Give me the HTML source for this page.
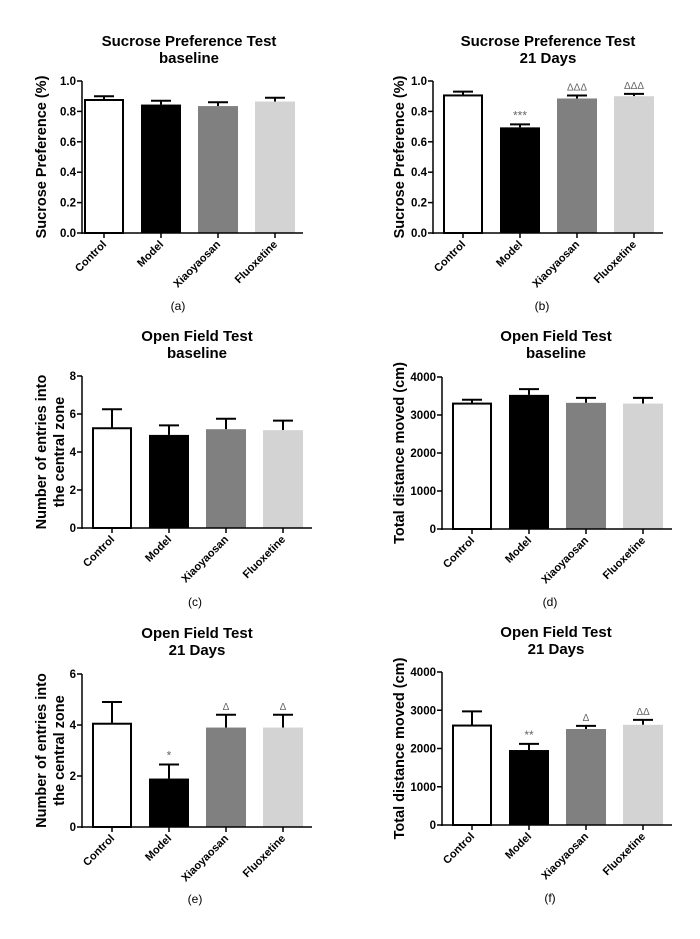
<!DOCTYPE html>
<html><head><meta charset="utf-8"><style>
body{margin:0;background:#fff;}
svg{display:block;font-family:"Liberation Sans",Arial,sans-serif;}
</style></head><body>
<svg id="fig" width="700" height="939" viewBox="0 0 700 939" xmlns="http://www.w3.org/2000/svg"></svg>
<script>
const categories = ["Control","Model","Xiaoyaosan","Fluoxetine"];
const fills = ["#ffffff","#000000","#808080","#d3d3d3"];
const aMeans = [0.875,0.845,0.835,0.865];
const aErrs = [0.025,0.025,0.025,0.025];
const aMarks = ["","","",""];
const bMeans = [0.905,0.695,0.885,0.9];
const bErrs = [0.025,0.02,0.02,0.015];
const bMarks = ["","***","ΔΔΔ","ΔΔΔ"];
const cMeans = [5.25,4.9,5.2,5.15];
const cErrs = [1.0,0.5,0.55,0.5];
const cMarks = ["","","",""];
const dMeans = [3300,3530,3320,3300];
const dErrs = [100,150,130,150];
const dMarks = ["","","",""];
const eMeans = [4.05,1.9,3.9,3.9];
const eErrs = [0.85,0.55,0.5,0.5];
const eMarks = ["","*","Δ","Δ"];
const fMeans = [2600,1960,2510,2620];
const fErrs = [370,160,80,130];
const fMarks = ["","**","Δ","ΔΔ"];
const spTicks = ["0.0","0.2","0.4","0.6","0.8","1.0"];
const c8Ticks = ["0","2","4","6","8"];
const c6Ticks = ["0","2","4","6"];
const d4Ticks = ["0","1000","2000","3000","4000"];

const NS="http://www.w3.org/2000/svg";
const svg=document.getElementById('fig');
function mk(tag,attrs,parent,text){const e=document.createElementNS(NS,tag);for(const k in attrs)e.setAttribute(k,attrs[k]);if(text!==undefined)e.textContent=text;(parent||svg).appendChild(e);return e;}

function panel(p){
  const g=mk('g',{});
  
  
  const ymax=parseFloat(p.ticks[p.ticks.length-1]);
  const ys=v=>p.y0-(v/ymax)*(p.y0-p.y1);
  const t1=mk('text',{x:p.tx,y:p.ty,'text-anchor':'middle','font-size':'15','font-weight':'bold'},g,p.title[0]);
  
  
  const t2=mk('text',{x:p.tx,y:p.ty+17,'text-anchor':'middle','font-size':'15','font-weight':'bold'},g,p.title[1]);
  
  
  // y label
  const cy=(p.y0+p.y1)/2;
  p.ylab.forEach((l,i)=>{
    const x=p.ylx+i*18;
    const t=mk('text',{x:x,y:cy,'text-anchor':'middle','font-size':'14.5','font-weight':'bold',transform:`rotate(-90 ${x} ${cy})`},g,l);
    
    
  });
  // bars
  categories.forEach((c,i)=>{
    const x=p.bx+i*57, w=40, cx=x+w/2;
    const top=ys(p.means[i]), et=ys(p.means[i]+p.errs[i]);
    const ln=mk('line',{x1:cx,y1:top,x2:cx,y2:et,stroke:'#000','stroke-width':2},g);
    
    
    const cap=mk('line',{x1:cx-10,y1:et,x2:cx+10,y2:et,stroke:'#000','stroke-width':2},g);
    
    
    const r=mk('rect',{x:x+(i==0?1:0),y:top,width:w-(i==0?2:0),height:p.y0-top,fill:fills[i],stroke:i==0?'#000':'none','stroke-width':2},g);
    
    
    if(p.marks[i]){
      const m=mk('text',{x:cx,y:et-5,'text-anchor':'middle','font-size':p.marks[i].includes('*')?'12':'10',fill:'#666'},g,p.marks[i]);
      
      
    }
    const tk=mk('line',{x1:cx,y1:p.y0,x2:cx,y2:p.y0+5,stroke:'#000','stroke-width':1.5},g);
    
    
    const lx=cx+3, ly=p.y0+12;
    const lt=mk('text',{x:lx,y:ly,'text-anchor':'end','font-size':'11','font-weight':'bold',transform:`rotate(-45 ${lx} ${ly})`},g,c);
    
    
  });
  // axes
  const ya=mk('line',{x1:p.ax,y1:p.y1,x2:p.ax,y2:p.y0+1,stroke:'#000','stroke-width':1.5},g);
  
  
  const xa=mk('line',{x1:p.ax,y1:p.y0,x2:p.xe,y2:p.y0,stroke:'#000','stroke-width':1.5},g);
  
  
  p.ticks.forEach(t=>{
    const y=ys(parseFloat(t));
    const tl=mk('line',{x1:p.ax-5,y1:y,x2:p.ax,y2:y,stroke:'#000','stroke-width':1.5},g);
    
    
    const tt=mk('text',{x:p.ax-6,y:y+4,'text-anchor':'end','font-size':'11.5','font-weight':'bold'},g,t);
    
    
  });
  const pl=mk('text',{x:p.lx,y:p.ly,'text-anchor':'middle','font-size':'12'},g,'('+p.id+')');
  
  
}
const spLab=["Sucrose Preference (%)"];
const nLab=["Number of entries into","the central zone"];
const dLab=["Total distance moved  (cm)"];
panel({id:'a',title:["Sucrose Preference Test","baseline"],tx:189,ty:46,ax:82,xe:303,y0:233,y1:81,bx:84,ticks:spTicks,means:aMeans,errs:aErrs,marks:aMarks,ylab:spLab,ylx:46,lx:178,ly:310});
panel({id:'b',title:["Sucrose Preference Test","21 Days"],tx:548,ty:46,ax:433,xe:663,y0:233,y1:81,bx:443,ticks:spTicks,means:bMeans,errs:bErrs,marks:bMarks,ylab:spLab,ylx:404,lx:542,ly:310});
panel({id:'c',title:["Open Field Test","baseline"],tx:197,ty:341,ax:82,xe:312,y0:528,y1:376,bx:92,ticks:c8Ticks,means:cMeans,errs:cErrs,marks:cMarks,ylab:nLab,ylx:46,lx:195,ly:606});
panel({id:'d',title:["Open Field Test","baseline"],tx:556,ty:341,ax:442,xe:672,y0:529,y1:377,bx:452,ticks:d4Ticks,means:dMeans,errs:dErrs,marks:dMarks,ylab:dLab,ylx:404,lx:550,ly:606});
panel({id:'e',title:["Open Field Test","21 Days"],tx:197,ty:638,ax:82,xe:312,y0:827,y1:674,bx:92,ticks:c6Ticks,means:eMeans,errs:eErrs,marks:eMarks,ylab:nLab,ylx:46,lx:195,ly:903});
panel({id:'f',title:["Open Field Test","21 Days"],tx:556,ty:637,ax:442,xe:672,y0:825,y1:672,bx:452,ticks:d4Ticks,means:fMeans,errs:fErrs,marks:fMarks,ylab:dLab,ylx:404,lx:550,ly:902});
</script>
</body></html>
